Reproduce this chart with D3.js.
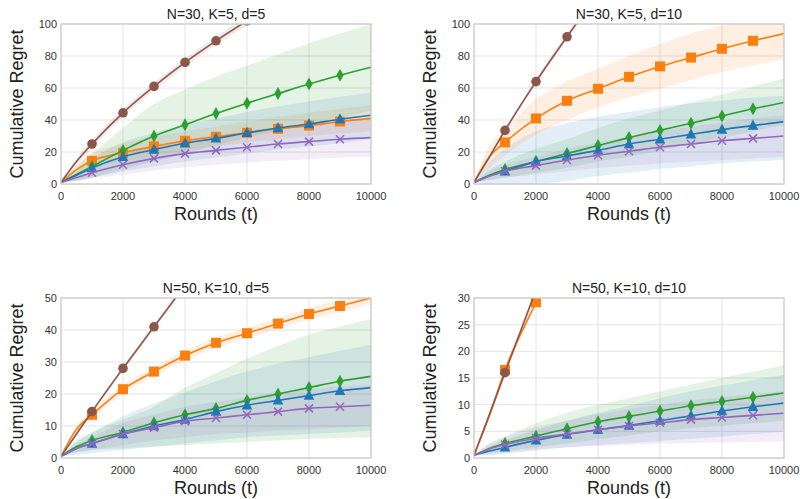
<!DOCTYPE html>
<html>
<head>
<meta charset="utf-8">
<script src="https://cdn.jsdelivr.net/npm/d3@7"></script>
<style>
  body { margin: 0; background: #fff; }
  svg { font-family: "Liberation Sans", Arial, sans-serif; }
</style>
</head>
<body>
<div id="chart"></div>
<script>
var rounds = [0, 500, 1000, 2000, 3000, 4000, 5000, 6000, 7000, 8000, 9000, 10000];
var markRounds = [1000, 2000, 3000, 4000, 5000, 6000, 7000, 8000, 9000];
var xTicks = [0, 2000, 4000, 6000, 8000, 10000];

// panel 1: N=30, K=5, d=5
var p1_orange    = [1, 9, 14.5, 19.5, 23.5, 27, 29.5, 32, 34.5, 36.5, 39, 41];
var p1_orange_lo = [1, 6, 10, 14, 17.5, 21, 23.5, 26, 28, 30, 31.5, 33];
var p1_orange_hi = [1, 12, 19, 25, 29.5, 33, 36, 39, 42, 44.5, 47, 49];
var p1_green     = [1, 6, 11, 21, 30, 37, 44, 50.5, 56.5, 62.5, 68, 73];
var p1_green_lo  = [1, 2, 4, 9, 14, 19, 24, 29, 33, 37, 41, 46];
var p1_green_hi  = [1, 11, 19, 35, 50, 59, 67, 74, 81, 88, 94, 100];
var p1_blue      = [1, 5.5, 10, 17, 21.5, 25.5, 28.5, 32, 35, 37.5, 40.5, 43];
var p1_blue_lo   = [1, 2, 4, 8, 11, 14, 16.5, 19, 21.5, 23.5, 25.5, 28];
var p1_blue_hi   = [1, 9, 16, 26, 32, 37, 41, 45, 48.5, 51.5, 54.5, 57];
var p1_purple    = [1, 4, 7, 12, 16, 19, 21, 23, 25, 26.5, 28, 29];
var p1_purple_lo = [1, 2, 3.5, 6, 8.5, 10.5, 12, 13.5, 14.5, 15.5, 16.5, 17];
var p1_purple_hi = [1, 6, 10.5, 18, 23.5, 27.5, 30.5, 33, 35.5, 37.5, 39.5, 41];
var p1_brown     = [1, 14, 25, 44.5, 61, 76, 89.5, 102, 114, null, null, null];
var p1_brown_lo  = [1, 12, 22.5, 42, 58.5, 73.5, 87, 99, 111, null, null, null];
var p1_brown_hi  = [1, 16, 27.5, 47, 63.5, 78.5, 92, 105, 117, null, null, null];

// panel 2: N=30, K=5, d=10
var p2_orange    = [1, 17, 26, 41, 52, 59.5, 67, 73.5, 79, 84.5, 89.5, 94];
var p2_orange_lo = [1, 10, 18, 31, 40, 48, 54, 59.5, 65, 70, 74, 78];
var p2_orange_hi = [1, 24, 34, 53, 64, 72, 80, 87.5, 94, 99, 102, 104];
var p2_green     = [1, 5.5, 9, 14, 19, 24, 29, 33.5, 38, 42.5, 47, 51];
var p2_green_lo  = [1, 2.5, 4, 7, 10, 14, 17, 21, 25, 29, 33, 37];
var p2_green_hi  = [1, 9, 14, 22, 28, 35, 41, 46, 51, 56, 61, 66];
var p2_blue      = [1, 5, 8, 14, 17.5, 21, 25, 28, 31, 34, 36.5, 39];
var p2_blue_lo   = [1, 0, 0, 0, 2, 5, 7, 9.5, 11, 13, 14, 15];
var p2_blue_hi   = [1, 14, 22, 33, 38, 42, 45, 48, 50.5, 52, 54, 55];
var p2_purple    = [1, 5, 8, 11.5, 15, 18, 20.5, 23, 25, 27, 28.5, 30];
var p2_purple_lo = [1, 2.5, 4, 6, 8, 10, 11.5, 13, 14, 15, 16, 17];
var p2_purple_hi = [1, 8, 12, 17, 22, 26, 29.5, 33, 36, 38.5, 41, 43];
var p2_brown     = [1, 17, 33.5, 64, 92, 119, null, null, null, null, null, null];
var p2_brown_lo  = [1, 15.5, 32, 62, 90, 117, null, null, null, null, null, null];
var p2_brown_hi  = [1, 18.5, 35, 66, 94, 121, null, null, null, null, null, null];

// panel 3: N=50, K=10, d=5
var p3_orange    = [0.5, 9, 13.5, 21.5, 27, 32, 36, 39, 42, 45, 47.5, 50];
var p3_orange_lo = [0.5, 8, 12.3, 20.2, 25.6, 30.5, 34.4, 37.4, 40.3, 43.2, 45.6, 48];
var p3_orange_hi = [0.5, 10, 14.7, 22.8, 28.4, 33.5, 37.6, 40.6, 43.7, 46.8, 49.4, 52];
var p3_green     = [0.5, 3.5, 5.5, 8, 11, 13.5, 15.5, 18, 20, 22, 24, 25.5];
var p3_green_lo  = [0.5, 1.8, 2.5, 3, 3.5, 4, 4.5, 5, 5.5, 6, 6.2, 6.5];
var p3_green_hi  = [0.5, 5.5, 8, 12, 16, 22, 26.5, 31, 35, 38.5, 41, 43.5];
var p3_blue      = [0.5, 3, 4.5, 7.5, 10, 12, 14.5, 16.5, 18, 19.5, 21, 22];
var p3_blue_lo   = [0.5, 1, 1.5, 2.5, 3.5, 4.5, 5.5, 6.5, 7, 7.5, 8, 8.5];
var p3_blue_hi   = [0.5, 5, 8, 13, 17, 20.5, 24, 27, 29.5, 31.5, 33.5, 35.5];
var p3_purple    = [0.5, 3, 4.5, 7.5, 9.5, 11.5, 12.5, 13.5, 14.5, 15.5, 16, 16.5];
var p3_purple_lo = [0.5, 1.8, 2.5, 4, 5.5, 6.5, 7.5, 8, 8.5, 9, 9.5, 10];
var p3_purple_hi = [0.5, 4.2, 6.5, 11, 13.5, 16, 17.5, 19, 20.5, 21.5, 22.5, 23];
var p3_brown     = [0.5, 7.5, 14.5, 28, 41, 54, null, null, null, null, null, null];
var p3_brown_lo  = [0.5, 7, 13.8, 27.2, 40.2, 53, null, null, null, null, null, null];
var p3_brown_hi  = [0.5, 8, 15.2, 28.8, 41.8, 55, null, null, null, null, null, null];

// panel 4: N=50, K=10, d=10
var p4_orange    = [0.5, 8, 16.5, 29.2, 42, null, null, null, null, null, null, null];
var p4_orange_lo = [0.5, 7.3, 15.8, 28.4, 41, null, null, null, null, null, null, null];
var p4_orange_hi = [0.5, 8.7, 17.2, 30, 43, null, null, null, null, null, null, null];
var p4_green     = [0.5, 1.8, 2.7, 4.1, 5.5, 6.8, 7.8, 8.8, 9.8, 10.6, 11.4, 12.2];
var p4_green_lo  = [0.5, 1, 1.3, 2, 2.7, 3.5, 4.2, 5, 5.6, 6, 6.5, 7];
var p4_green_hi  = [0.5, 2.7, 4, 6.5, 8.5, 10, 11.2, 12.5, 13.8, 15, 16.2, 17.4];
var p4_blue      = [0.5, 1.3, 2, 3.3, 4.4, 5.3, 6.1, 7, 7.9, 8.8, 9.6, 10.3];
var p4_blue_lo   = [0.5, 0.5, 0.8, 1.4, 2, 2.4, 2.8, 3.2, 3.6, 4, 4.5, 4.9];
var p4_blue_hi   = [0.5, 2.2, 3.3, 5.3, 7, 8.5, 9.8, 11.2, 12.5, 13.6, 14.6, 15.6];
var p4_purple    = [0.5, 1.7, 2.5, 3.7, 4.5, 5.3, 6, 6.6, 7.2, 7.6, 8, 8.4];
var p4_purple_lo = [0.5, 0.7, 1, 1.6, 2, 2.3, 2.5, 2.7, 2.8, 2.9, 3, 3.1];
var p4_purple_hi = [0.5, 2.7, 4, 5.8, 7, 8.2, 9.2, 10, 10.8, 11.4, 12, 12.5];
var p4_brown     = [0.5, 8.2, 16, 31.5, null, null, null, null, null, null, null, null];
var p4_brown_lo  = [0.5, 7.6, 15.3, 30.7, null, null, null, null, null, null, null, null];
var p4_brown_hi  = [0.5, 8.8, 16.7, 32.3, null, null, null, null, null, null, null, null];

var colors = {orange: "#ff7f0e", green: "#2ca02c", blue: "#1f77b4", purple: "#9467bd", brown: "#8c564b"};
var markers = {orange: "square", green: "diamond", blue: "triangle", purple: "x", brown: "circle"};
var order = ["orange", "green", "blue", "purple", "brown"];

var panels = [
	{title: "N=30, K=5, d=5",   left: 61,  top: 24,  ymax: 100, yTicks: [0, 20, 40, 60, 80, 100],
	 data: {orange: [p1_orange, p1_orange_lo, p1_orange_hi], green: [p1_green, p1_green_lo, p1_green_hi],
	        blue: [p1_blue, p1_blue_lo, p1_blue_hi], purple: [p1_purple, p1_purple_lo, p1_purple_hi],
	        brown: [p1_brown, p1_brown_lo, p1_brown_hi]}},
	{title: "N=30, K=5, d=10",  left: 474, top: 24,  ymax: 100, yTicks: [0, 20, 40, 60, 80, 100],
	 data: {orange: [p2_orange, p2_orange_lo, p2_orange_hi], green: [p2_green, p2_green_lo, p2_green_hi],
	        blue: [p2_blue, p2_blue_lo, p2_blue_hi], purple: [p2_purple, p2_purple_lo, p2_purple_hi],
	        brown: [p2_brown, p2_brown_lo, p2_brown_hi]}},
	{title: "N=50, K=10, d=5",  left: 61,  top: 298, ymax: 50,  yTicks: [0, 10, 20, 30, 40, 50],
	 data: {orange: [p3_orange, p3_orange_lo, p3_orange_hi], green: [p3_green, p3_green_lo, p3_green_hi],
	        blue: [p3_blue, p3_blue_lo, p3_blue_hi], purple: [p3_purple, p3_purple_lo, p3_purple_hi],
	        brown: [p3_brown, p3_brown_lo, p3_brown_hi]}},
	{title: "N=50, K=10, d=10", left: 474, top: 298, ymax: 30,  yTicks: [0, 5, 10, 15, 20, 25, 30],
	 data: {orange: [p4_orange, p4_orange_lo, p4_orange_hi], green: [p4_green, p4_green_lo, p4_green_hi],
	        blue: [p4_blue, p4_blue_lo, p4_blue_hi], purple: [p4_purple, p4_purple_lo, p4_purple_hi],
	        brown: [p4_brown, p4_brown_lo, p4_brown_hi]}}
];

var width = 310, height = 160;

var svg = d3.select("#chart").append("svg")
	.attr("width", 800)
	.attr("height", 499);

panels.forEach(function(p, pi) {
	var x = d3.scaleLinear().domain([0, 10000]).range([0, width]);
	var y = d3.scaleLinear().domain([0, p.ymax]).range([height, 0]);

	var g = svg.append("g").attr("transform", "translate(" + p.left + "," + p.top + ")");

	g.append("clipPath").attr("id", "clip" + pi)
		.append("rect").attr("width", width).attr("height", height);

	// grid
	g.append("g").selectAll("line.gx").data(xTicks).enter().append("line")
		.attr("x1", function(d) { return x(d); }).attr("x2", function(d) { return x(d); })
		.attr("y1", 0).attr("y2", height)
		.attr("stroke", "#e3e3e3").attr("stroke-width", 1);
	g.append("g").selectAll("line.gy").data(p.yTicks).enter().append("line")
		.attr("y1", function(d) { return y(d); }).attr("y2", function(d) { return y(d); })
		.attr("x1", 0).attr("x2", width)
		.attr("stroke", "#e3e3e3").attr("stroke-width", 1);

	var plot = g.append("g").attr("clip-path", "url(#clip" + pi + ")");

	// bands
	order.forEach(function(name) {
		var s = p.data[name];
		var pts = rounds.map(function(t, i) { return {t: t, m: s[0][i], lo: s[1][i], hi: s[2][i]}; })
			.filter(function(d) { return d.m != null; });
		plot.append("path")
			.datum(pts)
			.attr("fill", colors[name])
			.attr("fill-opacity", 0.12)
			.attr("d", d3.area().curve(d3.curveMonotoneX)
				.x(function(d) { return x(d.t); })
				.y0(function(d) { return y(d.lo); })
				.y1(function(d) { return y(d.hi); }));
	});

	// lines and markers
	order.forEach(function(name) {
		var s = p.data[name];
		var pts = rounds.map(function(t, i) { return {t: t, m: s[0][i]}; })
			.filter(function(d) { return d.m != null; });
		plot.append("path")
			.datum(pts)
			.attr("fill", "none")
			.attr("stroke", colors[name])
			.attr("stroke-width", 1.6)
			.attr("d", d3.line().curve(d3.curveMonotoneX)
				.x(function(d) { return x(d.t); })
				.y(function(d) { return y(d.m); }));

		var mk = pts.filter(function(d) { return markRounds.indexOf(d.t) >= 0; });
		var sel = plot.append("g").selectAll("g").data(mk).enter().append("g")
			.attr("transform", function(d) { return "translate(" + x(d.t) + "," + y(d.m) + ")"; });
		var c = colors[name];
		if (markers[name] === "circle") {
			sel.append("circle").attr("r", 4.8).attr("fill", c);
		} else if (markers[name] === "square") {
			sel.append("rect").attr("x", -5).attr("y", -5).attr("width", 10).attr("height", 10).attr("fill", c);
		} else if (markers[name] === "triangle") {
			sel.append("path").attr("d", "M0,-6L5.3,4.2L-5.3,4.2Z").attr("fill", c);
		} else if (markers[name] === "diamond") {
			sel.append("path").attr("d", "M0,-6.5L3.6,0L0,6.5L-3.6,0Z").attr("fill", c);
		} else {
			sel.append("path").attr("d", "M-4,-4L4,4M-4,4L4,-4")
				.attr("stroke", c).attr("stroke-width", 1.5).attr("fill", "none");
		}
	});

	// frame
	g.append("rect").attr("width", width).attr("height", height)
		.attr("fill", "none").attr("stroke", "#cccccc").attr("stroke-width", 1.25);

	// tick labels
	g.append("g").selectAll("text").data(xTicks).enter().append("text")
		.attr("x", function(d) { return x(d); })
		.attr("y", height + 16)
		.attr("text-anchor", "middle")
		.attr("font-size", 11)
		.attr("fill", "#333")
		.text(function(d) { return d; });
	g.append("g").selectAll("text").data(p.yTicks).enter().append("text")
		.attr("x", -4)
		.attr("y", function(d) { return y(d) + 4; })
		.attr("text-anchor", "end")
		.attr("font-size", 11)
		.attr("fill", "#333")
		.text(function(d) { return d; });

	// titles and axis labels
	g.append("text")
		.attr("x", width / 2).attr("y", -5)
		.attr("text-anchor", "middle")
		.attr("font-size", 14)
		.attr("fill", "#222")
		.text(p.title);
	g.append("text")
		.attr("x", width / 2).attr("y", height + 36)
		.attr("text-anchor", "middle")
		.attr("font-size", 18)
		.attr("fill", "#222")
		.text("Rounds (t)");
	g.append("text")
		.attr("transform", "translate(-38," + (height / 2) + ") rotate(-90)")
		.attr("text-anchor", "middle")
		.attr("font-size", 18)
		.attr("fill", "#222")
		.text("Cumulative Regret");
});
</script>
</body>
</html>
